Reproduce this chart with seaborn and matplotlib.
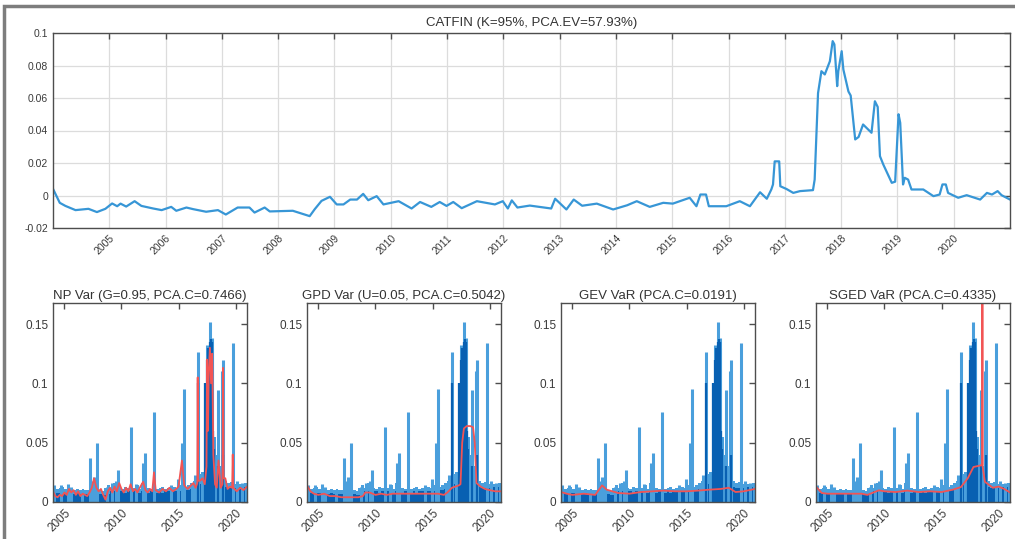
import matplotlib
matplotlib.use("Agg")
import matplotlib.pyplot as plt
import matplotlib.patches as mpatches
from matplotlib.ticker import FuncFormatter
import numpy as np
import pandas as pd
import seaborn as sns

# ---- CATFIN index (top panel) ----
catfin_t = [2004.0, 2004.12, 2004.22, 2004.4, 2004.63, 2004.78, 2004.93, 2005.05, 2005.14, 2005.2,
            2005.3, 2005.45, 2005.57, 2005.78, 2005.93, 2006.1, 2006.19, 2006.37, 2006.49, 2006.72,
            2006.93, 2007.07, 2007.28, 2007.49, 2007.58, 2007.76, 2007.85, 2008.26, 2008.56, 2008.65,
            2008.77, 2008.92, 2009.04, 2009.16, 2009.28, 2009.4, 2009.51, 2009.6, 2009.75, 2009.87,
            2010.14, 2010.37, 2010.52, 2010.72, 2010.87, 2010.99, 2011.11, 2011.26, 2011.53, 2011.85,
            2011.99, 2012.08, 2012.15, 2012.25, 2012.47, 2012.85, 2012.92, 2013.12, 2013.25, 2013.4,
            2013.66, 2013.95, 2014.2, 2014.37, 2014.6, 2014.84, 2015.01, 2015.31, 2015.43, 2015.5,
            2015.54, 2015.6, 2015.65, 2015.96, 2016.2, 2016.38, 2016.56, 2016.68, 2016.76, 2016.79,
            2016.82, 2016.9, 2016.92, 2017.03, 2017.15, 2017.27, 2017.5, 2017.53, 2017.59, 2017.65,
            2017.71, 2017.8, 2017.85, 2017.88, 2017.93, 2017.95, 2018.01, 2018.04, 2018.13, 2018.17,
            2018.25, 2018.31, 2018.39, 2018.54, 2018.6, 2018.65, 2018.69, 2018.75, 2018.9, 2018.96,
            2019.02, 2019.05, 2019.1, 2019.13, 2019.19, 2019.25, 2019.46, 2019.64, 2019.75, 2019.8,
            2019.86, 2019.9, 2020.08, 2020.23, 2020.47, 2020.59, 2020.68, 2020.78, 2020.85, 2021.0]
catfin_v = [0.0041, -0.0045, -0.0064, -0.009, -0.0082, -0.0102, -0.0082, -0.0049, -0.0066, -0.005,
            -0.0068, -0.0035, -0.0064, -0.008, -0.009, -0.007, -0.0094, -0.0074, -0.0084, -0.010,
            -0.009, -0.0117, -0.0074, -0.0074, -0.0105, -0.0074, -0.0098, -0.0094, -0.0127, -0.0084,
            -0.0033, -0.0008, -0.0055, -0.0055, -0.0025, -0.0025, 0.001, -0.0029, -0.0004, -0.0055,
            -0.0035, -0.008, -0.004, -0.007, -0.004, -0.0064, -0.004, -0.0078, -0.0035, -0.0055,
            -0.0035, -0.008, -0.003, -0.0074, -0.0062, -0.008, -0.002, -0.0086, -0.0025, -0.0063,
            -0.005, -0.0086, -0.006, -0.0035, -0.007, -0.0045, -0.005, -0.0014, -0.0066, 0.0006,
            0.0006, 0.0006, -0.0066, -0.0066, -0.0035, -0.0066, 0.002, -0.002, 0.0037, 0.0068,
            0.021, 0.021, 0.0057, 0.004, 0.0016, 0.0027, 0.0033, 0.0098, 0.063, 0.0765,
            0.0745, 0.0826, 0.095, 0.093, 0.0673, 0.0765, 0.0888, 0.0775, 0.064, 0.0615,
            0.0345, 0.036, 0.0437, 0.0386, 0.058, 0.0545, 0.0242, 0.019, 0.0078, 0.0085,
            0.05, 0.0447, 0.0068, 0.0109, 0.0098, 0.0037, 0.0037, -0.0004, 0.0006, 0.0068,
            0.0068, 0.0016, -0.0014, 0.0002, -0.0025, 0.0016, 0.0006, 0.0027, 0.0002, -0.0025]

# ---- shared loss bars (bottom panels) ----
base_t = [2004.0 + 0.25 * i for i in range(69)]
base_dark = [0.009, 0.008, 0.008, 0.008, 0.008, 0.007, 0.008, 0.007, 0.008, 0.007, 0.007, 0.007,
             0.007, 0.008, 0.008, 0.007, 0.007, 0.006, 0.006, 0.007, 0.009, 0.009, 0.009, 0.009,
             0.009, 0.008, 0.009, 0.008, 0.009, 0.008, 0.008, 0.009, 0.009, 0.008, 0.009, 0.008,
             0.008, 0.009, 0.008, 0.009, 0.009, 0.008, 0.009, 0.009, 0.009, 0.010, 0.010, 0.010,
             0.011, 0.012, 0.013, 0.015, 0.016, 0.018, 0.031, 0.041, 0.036, 0.021, 0.017, 0.014,
             0.013, 0.012, 0.012, 0.012, 0.012, 0.013, 0.013, 0.013, 0.013]
base_light = [0.013, 0.011, 0.012, 0.013, 0.011, 0.014, 0.011, 0.010, 0.011, 0.010, 0.011, 0.010,
              0.010, 0.011, 0.020, 0.012, 0.010, 0.009, 0.012, 0.014, 0.012, 0.016, 0.014, 0.012,
              0.011, 0.013, 0.012, 0.011, 0.012, 0.014, 0.011, 0.016, 0.013, 0.012, 0.011, 0.012,
              0.011, 0.012, 0.013, 0.011, 0.012, 0.011, 0.013, 0.012, 0.014, 0.015, 0.013, 0.014,
              0.016, 0.018, 0.020, 0.024, 0.025, 0.030, 0.050, 0.060, 0.055, 0.040, 0.030, 0.022,
              0.018, 0.016, 0.017, 0.015, 0.016, 0.015, 0.015, 0.016, 0.016]
spike_t = [2004.05, 2004.7, 2005.3, 2005.6, 2006.5, 2007.24, 2007.5, 2007.6, 2007.83, 2008.7,
           2009.2, 2009.55, 2009.72, 2010.84, 2011.3, 2011.85, 2012.07, 2012.85, 2014.3, 2014.98,
           2015.28, 2015.51, 2016.2, 2016.45, 2016.68, 2017.05, 2017.35, 2017.47, 2017.62, 2017.76,
           2017.9, 2017.96, 2018.15, 2018.3, 2018.49, 2018.6, 2018.85, 2018.93, 2019.75, 2020.1,
           2020.6, 2020.9]
spike_v = [0.014, 0.014, 0.015, 0.013, 0.010, 0.0368, 0.018, 0.021, 0.0494, 0.013,
           0.016, 0.018, 0.027, 0.063, 0.015, 0.033, 0.0415, 0.076, 0.014, 0.019,
           0.0494, 0.095, 0.015, 0.023, 0.126, 0.018, 0.100, 0.132, 0.120, 0.152,
           0.130, 0.138, 0.050, 0.030, 0.094, 0.030, 0.110, 0.120, 0.134, 0.018,
           0.016, 0.015]
dark_t = [2016.68, 2017.35, 2017.47, 2017.55, 2017.65, 2017.76, 2017.85, 2017.96, 2018.05, 2018.15,
          2018.49, 2018.93]
dark_v = [0.100, 0.100, 0.120, 0.130, 0.128, 0.135, 0.137, 0.135, 0.060, 0.045, 0.030, 0.040]

# ---- VaR estimates (red lines) ----
np_t = [2004.0, 2004.2, 2004.4, 2004.6, 2004.8, 2005.0, 2005.2, 2005.4, 2005.6, 2005.8,
        2006.0, 2006.2, 2006.4, 2006.6, 2006.8, 2007.0, 2007.2, 2007.4, 2007.6, 2007.8,
        2008.0, 2008.2, 2008.4, 2008.6, 2008.8, 2009.0, 2009.2, 2009.4, 2009.6, 2009.8,
        2010.0, 2010.2, 2010.4, 2010.6, 2010.8, 2011.0, 2011.2, 2011.4, 2011.6, 2011.9,
        2012.1, 2012.3, 2012.5, 2012.7, 2012.85, 2013.0, 2013.3, 2013.6, 2013.9, 2014.2,
        2014.5, 2014.8, 2015.0, 2015.3, 2015.5, 2015.8, 2016.0, 2016.3, 2016.5, 2016.65,
        2016.68, 2016.72, 2016.9, 2017.1, 2017.3, 2017.45, 2017.5, 2017.58, 2017.65, 2017.75,
        2017.85, 2017.95, 2018.05, 2018.2, 2018.35, 2018.5, 2018.7, 2018.85, 2018.9, 2018.95,
        2019.1, 2019.3, 2019.5, 2019.7, 2019.75, 2019.8, 2020.1, 2020.4, 2020.7, 2021.0]
np_v = [0.009, 0.005, 0.004, 0.006, 0.005, 0.008, 0.006, 0.011, 0.008, 0.010,
        0.006, 0.009, 0.005, 0.007, 0.006, 0.005, 0.008, 0.012, 0.020, 0.012,
        0.009, 0.011, 0.006, 0.002, 0.009, 0.012, 0.008, 0.013, 0.009, 0.016,
        0.011, 0.008, 0.012, 0.009, 0.015, 0.009, 0.011, 0.008, 0.012, 0.017,
        0.010, 0.008, 0.011, 0.009, 0.025, 0.010, 0.008, 0.011, 0.009, 0.012,
        0.009, 0.011, 0.013, 0.035, 0.014, 0.011, 0.013, 0.016, 0.012, 0.016,
        0.105, 0.018, 0.018, 0.020, 0.015, 0.030, 0.120, 0.060, 0.110, 0.130,
        0.100, 0.125, 0.040, 0.015, 0.012, 0.035, 0.012, 0.015, 0.113, 0.020,
        0.020, 0.011, 0.013, 0.012, 0.040, 0.012, 0.009, 0.012, 0.010, 0.013]
gpd_t = [2004.0, 2004.3, 2004.6, 2005.0, 2005.5, 2006.0, 2006.5, 2007.0, 2007.5, 2008.0,
         2008.5, 2008.9, 2009.1, 2009.5, 2010.0, 2010.5, 2011.0, 2011.5, 2012.0, 2012.5,
         2013.0, 2013.5, 2014.0, 2014.5, 2015.0, 2015.5, 2016.0, 2016.3, 2016.7, 2017.0,
         2017.3, 2017.45, 2017.6, 2017.75, 2018.0, 2018.3, 2018.55, 2018.7, 2018.85, 2019.2,
         2019.6, 2020.0, 2020.5, 2021.0]
gpd_v = [0.014, 0.009, 0.007, 0.006, 0.007, 0.005, 0.005, 0.004, 0.004, 0.004,
         0.004, 0.005, 0.008, 0.008, 0.006, 0.007, 0.006, 0.007, 0.007, 0.007,
         0.007, 0.007, 0.007, 0.007, 0.007, 0.007, 0.006, 0.008, 0.012, 0.013,
         0.014, 0.015, 0.050, 0.062, 0.064, 0.064, 0.063, 0.050, 0.016, 0.013,
         0.011, 0.010, 0.009, 0.009]
gev_t = [2004.0, 2004.5, 2005.0, 2006.0, 2007.0, 2007.3, 2007.6, 2008.0, 2009.0, 2010.0,
         2011.0, 2012.0, 2013.0, 2014.0, 2015.0, 2016.0, 2017.0, 2018.0, 2018.7, 2019.3,
         2020.0, 2021.0]
gev_v = [0.0084, 0.007, 0.006, 0.007, 0.006, 0.010, 0.014, 0.0104, 0.0076, 0.007,
         0.0084, 0.009, 0.0096, 0.009, 0.009, 0.0096, 0.0104, 0.011, 0.012, 0.0084,
         0.009, 0.011]
sged_t = [2004.0, 2004.5, 2005.0, 2006.0, 2007.0, 2008.0, 2008.5, 2009.5, 2010.0, 2011.0,
          2012.0, 2013.0, 2014.0, 2015.0, 2016.0, 2016.7, 2017.3, 2017.8, 2018.5, 2018.57,
          2018.58, 2018.6, 2018.8, 2019.5, 2020.0, 2020.5, 2021.0]
sged_v = [0.013, 0.0076, 0.007, 0.007, 0.007, 0.007, 0.006, 0.0098, 0.009, 0.0084,
          0.0096, 0.0084, 0.009, 0.0084, 0.0104, 0.0126, 0.020, 0.0295, 0.031, 0.031,
          0.250, 0.030, 0.017, 0.012, 0.013, 0.011, 0.008]

top_title = "CATFIN (K=95%, PCA.EV=57.93%)"
panel_titles = ["NP Var (G=0.95, PCA.C=0.7466)", "GPD Var (U=0.05, PCA.C=0.5042)",
                "GEV VaR (PCA.C=0.0191)", "SGED VaR (PCA.C=0.4335)"]
red_series = [(np_t, np_v), (gpd_t, gpd_v), (gev_t, gev_v), (sged_t, sged_v)]

sns.set_style("white")
plt.rcParams['font.family'] = ['Liberation Sans', 'DejaVu Sans']

LINE_BLUE = '#3796d6'
LIGHT_BLUE = '#4a9fdc'
DARK_BLUE = '#0860b2'
RED = '#f25454'
TXT = '#3a3a3a'

W, H = 1015, 539
fig = plt.figure(figsize=(W / 100, H / 100), dpi=100)
fig.patches.append(mpatches.Rectangle((4 / W, -0.1), 2, (H - 6) / H + 0.1,
                                      transform=fig.transFigure, fill=False,
                                      edgecolor='#7d7d7d', linewidth=2.5))


def style_axes(ax, fs):
    for s in ax.spines.values():
        s.set_color('#4d4d4d')
        s.set_linewidth(1.0)
    ax.tick_params(direction='in', top=True, right=True, length=4, width=1,
                   colors='#4d4d4d', labelcolor=TXT, labelsize=fs)
    ax.set_xlabel('')
    ax.set_ylabel('')


fmt = FuncFormatter(lambda v, p: f"{v:g}" if abs(v) > 1e-9 else "0")

# top panel
ax = fig.add_axes([53 / W, 1 - 228 / H, 957 / W, 195 / H])
df_top = pd.DataFrame({'t': catfin_t, 'v': catfin_v})
sns.lineplot(data=df_top, x='t', y='v', ax=ax, color=LINE_BLUE, linewidth=1.6)
ax.set_xlim(2004, 2021)
ax.set_ylim(-0.02, 0.1)
ax.set_yticks([-0.02, 0, 0.02, 0.04, 0.06, 0.08, 0.1])
ax.yaxis.set_major_formatter(fmt)
years = list(range(2005, 2021))
ax.set_xticks(years)
ax.set_xticklabels([str(y) for y in years], rotation=45, ha='right', rotation_mode='anchor')
ax.grid(True, color='#dcdcdc', linewidth=0.9)
style_axes(ax, 7.5)
ax.set_title(top_title, fontsize=9.5, color='#333333', pad=5)

# bottom panels
lefts = [53, 307, 561, 816]
for left, title, (rt, rv) in zip(lefts, panel_titles, red_series):
    ax = fig.add_axes([left / W, 1 - 502 / H, 194 / W, 199 / H])
    ax.fill_between(base_t, 0, base_light, step='post', color=LIGHT_BLUE, linewidth=0)
    ax.vlines(spike_t, 0, spike_v, color=LIGHT_BLUE, linewidth=2.2)
    ax.fill_between(base_t, 0, base_dark, step='post', color=DARK_BLUE, linewidth=0)
    ax.vlines(dark_t, 0, dark_v, color=DARK_BLUE, linewidth=1.6)
    df_r = pd.DataFrame({'t': rt, 'v': rv})
    sns.lineplot(data=df_r, x='t', y='v', ax=ax, color=RED, linewidth=1.3)
    ax.set_xlim(2004, 2021)
    ax.set_ylim(0, 0.1677)
    ax.set_yticks([0, 0.05, 0.1, 0.15])
    ax.yaxis.set_major_formatter(fmt)
    ax.set_xticks([2005, 2010, 2015, 2020])
    ax.set_xticklabels(['2005', '2010', '2015', '2020'], rotation=45, ha='right',
                       rotation_mode='anchor')
    style_axes(ax, 8.5)
    ax.set_title(title, fontsize=9.5, color='#333333', pad=3)

fig.savefig('out.png', dpi=100)
